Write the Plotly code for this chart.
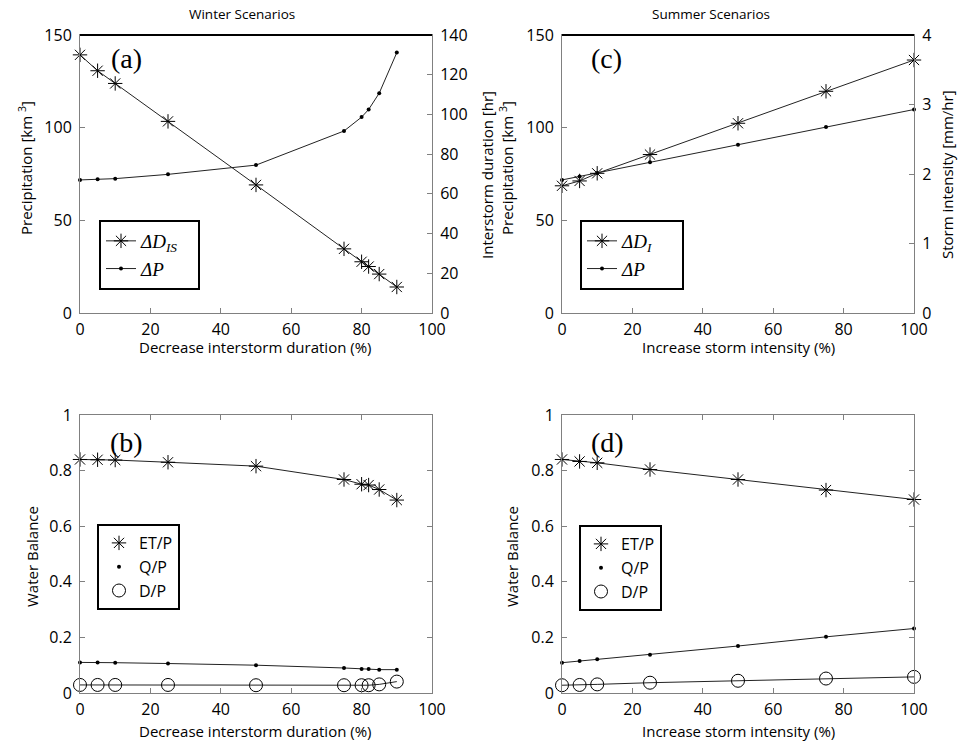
import plotly.graph_objects as go

W, H = 958, 746

# ---------------- data ----------------
winter_x = [0, 5, 10, 25, 50, 75, 80, 82, 85, 90]
winter_dis = [130, 122, 115.6, 96.5, 64.5, 32.3, 25.8, 23.4, 19.6, 13.1]     # interstorm duration [hr]
winter_p = [71.8, 72.1, 72.5, 74.8, 79.8, 98.2, 105.7, 109.8, 118.6, 140.5]  # precipitation [km3]

summer_x = [0, 5, 10, 25, 50, 75, 100]
summer_di = [1.83, 1.90, 2.01, 2.28, 2.73, 3.19, 3.64]                       # storm intensity [mm/hr]
summer_p = [71.8, 73.7, 75.5, 81.3, 90.8, 100.3, 109.8]                       # precipitation [km3]

winter_et = [0.840, 0.839, 0.838, 0.830, 0.816, 0.768, 0.751, 0.748, 0.732, 0.694]
winter_q = [0.110, 0.110, 0.109, 0.106, 0.100, 0.090, 0.086, 0.086, 0.084, 0.084]
winter_d = [0.029, 0.029, 0.029, 0.029, 0.028, 0.028, 0.028, 0.028, 0.031, 0.041]

summer_et = [0.840, 0.833, 0.828, 0.804, 0.768, 0.730, 0.696]
summer_q = [0.109, 0.115, 0.121, 0.138, 0.169, 0.202, 0.232]
summer_d = [0.028, 0.029, 0.031, 0.037, 0.044, 0.052, 0.058]

x_ticks = [0, 20, 40, 60, 80, 100]

# ---------------- helpers ----------------
def px(x):
    return x / W

def py(y):
    return 1 - y / H

LINE = '#222222'
AX = '#808080'
SANS = 'Open Sans'
SERIF = 'Liberation Serif'

STAR = dict(symbol='asterisk-open', size=12, color='black', line=dict(color='black', width=1))
DOT = dict(symbol='circle', size=4, color='black', line=dict(width=0))
RING = dict(symbol='circle-open', size=13, color='black', line=dict(color='black', width=1))

fig = go.Figure()

# ---- (a) winter precipitation / interstorm duration ----
fig.add_trace(go.Scatter(x=winter_x, y=winter_dis, mode='lines+markers', xaxis='x', yaxis='y5',
                         line=dict(color=LINE, width=1), marker=STAR, cliponaxis=False,
                         name='<i>ΔD<sub>IS</sub></i>&nbsp;&nbsp;&nbsp;', legend='legend'))
fig.add_trace(go.Scatter(x=winter_x, y=winter_p, mode='lines+markers', xaxis='x', yaxis='y',
                         line=dict(color=LINE, width=1), marker=DOT, cliponaxis=False,
                         name='<i>ΔP</i>', legend='legend'))

# ---- (c) summer precipitation / storm intensity ----
fig.add_trace(go.Scatter(x=summer_x, y=summer_di, mode='lines+markers', xaxis='x2', yaxis='y6',
                         line=dict(color=LINE, width=1), marker=STAR, cliponaxis=False,
                         name='<i>ΔD<sub>I</sub></i>&nbsp;&nbsp;&nbsp;&nbsp;&nbsp;', legend='legend2'))
fig.add_trace(go.Scatter(x=summer_x, y=summer_p, mode='lines+markers', xaxis='x2', yaxis='y2',
                         line=dict(color=LINE, width=1), marker=DOT, cliponaxis=False,
                         name='<i>ΔP</i>', legend='legend2'))

# ---- (b) winter water balance ----
for ys, mk in [(winter_et, STAR), (winter_q, DOT), (winter_d, RING)]:
    fig.add_trace(go.Scatter(x=winter_x, y=ys, mode='lines+markers', xaxis='x3', yaxis='y3',
                             line=dict(color=LINE, width=1), marker=mk, cliponaxis=False,
                             showlegend=False))
# ---- (d) summer water balance ----
for ys, mk in [(summer_et, STAR), (summer_q, DOT), (summer_d, RING)]:
    fig.add_trace(go.Scatter(x=summer_x, y=ys, mode='lines+markers', xaxis='x4', yaxis='y4',
                             line=dict(color=LINE, width=1), marker=mk, cliponaxis=False,
                             showlegend=False))

# legend entries (markers only) for (b) and (d)
for lg, ax, ay in [('legend3', 'x3', 'y3'), ('legend4', 'x4', 'y4')]:
    for nm, mk in [('ET/P', STAR), ('Q/P', DOT), ('D/P', RING)]:
        fig.add_trace(go.Scatter(x=[None], y=[None], mode='markers', xaxis=ax, yaxis=ay,
                                 marker=mk, name=nm, legend=lg))

# ---------------- axes ----------------
xa_dom = [px(80), px(432)]
xc_dom = [px(562), px(914)]
top_dom = [py(313), py(35)]
bot_dom = [py(693), py(415)]

tickfont = dict(family=SANS, size=16, color='black')

def xaxis(dom, anchor, mirror):
    return dict(domain=dom, anchor=anchor, range=[0, 100], tickvals=x_ticks,
                showline=True, linecolor=AX, linewidth=1, mirror=mirror,
                ticks='inside', ticklen=5, tickcolor=AX, showgrid=False, zeroline=False,
                tickfont=tickfont, ticklabelstandoff=2, fixedrange=True, automargin=False)

def yaxis(dom, anchor, rng, tv, mirror, side='left', overlaying=None):
    d = dict(domain=dom, anchor=anchor, range=rng, tickvals=tv, side=side,
             showline=True, linecolor=AX, linewidth=1, mirror=mirror,
             ticks='inside', ticklen=5, tickcolor=AX, showgrid=False, zeroline=False,
             tickfont=tickfont, ticklabelstandoff=4, fixedrange=True, automargin=False)
    if overlaying:
        d['overlaying'] = overlaying
    return d

fig.update_layout(
    xaxis=xaxis(xa_dom, 'y', True),
    yaxis=yaxis(top_dom, 'x', [0, 150], [0, 50, 100, 150], False),
    yaxis5=yaxis(top_dom, 'x', [0, 140], [0, 20, 40, 60, 80, 100, 120, 140], False, 'right', 'y'),
    xaxis2=xaxis(xc_dom, 'y2', True),
    yaxis2=yaxis(top_dom, 'x2', [0, 150], [0, 50, 100, 150], False),
    yaxis6=yaxis(top_dom, 'x2', [0, 4], [0, 1, 2, 3, 4], False, 'right', 'y2'),
    xaxis3=xaxis(xa_dom, 'y3', 'ticks'),
    yaxis3=yaxis(bot_dom, 'x3', [0, 1], [0, 0.2, 0.4, 0.6, 0.8, 1], 'ticks'),
    xaxis4=xaxis(xc_dom, 'y4', 'ticks'),
    yaxis4=yaxis(bot_dom, 'x4', [0, 1], [0, 0.2, 0.4, 0.6, 0.8, 1], 'ticks'),
)
fig.update_layout(yaxis3=dict(tickformat='.1~f'), yaxis4=dict(tickformat='.1~f'))

# ---------------- legends ----------------
def legend(x, y, fam, size):
    return dict(x=px(x), y=py(y), xanchor='left', yanchor='top', xref='paper', yref='paper',
                bordercolor='black', borderwidth=2, bgcolor='white',
                font=dict(family=fam, size=size, color='black'), tracegroupgap=0,
                itemwidth=30)

fig.update_layout(
    legend=legend(99, 220, SERIF, 19),
    legend2=legend(580, 220, SERIF, 19),
    legend3=legend(97, 524, SANS, 16),
    legend4=legend(579, 525, SANS, 16),
)

# ---------------- text ----------------
ann = []
def text(x, y, s, size=15, fam=SANS, angle=0):
    ann.append(dict(x=px(x), y=py(y), xref='paper', yref='paper', text=s, showarrow=False,
                    font=dict(family=fam, size=size, color='black'), textangle=angle,
                    xanchor='center', yanchor='middle'))

text(242, 14, 'Winter Scenarios', 13.5)
text(711, 14, 'Summer Scenarios', 13.5)
text(256, 347, 'Decrease interstorm duration (%)')
text(738, 347, 'Increase storm intensity (%)')
text(256, 731, 'Decrease interstorm duration (%)')
text(738, 731, 'Increase storm intensity (%)')
text(25, 168, 'Precipitation [km <sup>3</sup>]', angle=-90)
text(487, 175, 'Interstorm duration [hr]', angle=-90)
text(506, 168, 'Precipitation [km <sup>3</sup>]', angle=-90)
text(947, 175, 'Storm intensity [mm/hr]', angle=-90)
text(32, 556, 'Water Balance', angle=-90)
text(512, 556, 'Water Balance', angle=-90)
text(126, 58, '(a)', 28, SERIF)
text(606, 58, '(c)', 28, SERIF)
text(126, 443, '(b)', 28, SERIF)
text(607, 443, '(d)', 28, SERIF)

shapes = [
    dict(type='line', xref='paper', yref='paper', x0=px(80), x1=px(432), y0=py(35), y1=py(35),
         line=dict(color='black', width=2)),
    dict(type='line', xref='paper', yref='paper', x0=px(562), x1=px(914), y0=py(35), y1=py(35),
         line=dict(color='black', width=2)),
]

fig.update_layout(width=W, height=H, autosize=False, margin=dict(l=0, r=0, t=0, b=0),
                  plot_bgcolor='white', paper_bgcolor='white', annotations=ann, shapes=shapes,
                  font=dict(family=SANS, color='black'))

fig.write_html('out.html', config={'displayModeBar': False},
               post_script="document.body.style.margin='0px';document.body.style.padding='0px';")
